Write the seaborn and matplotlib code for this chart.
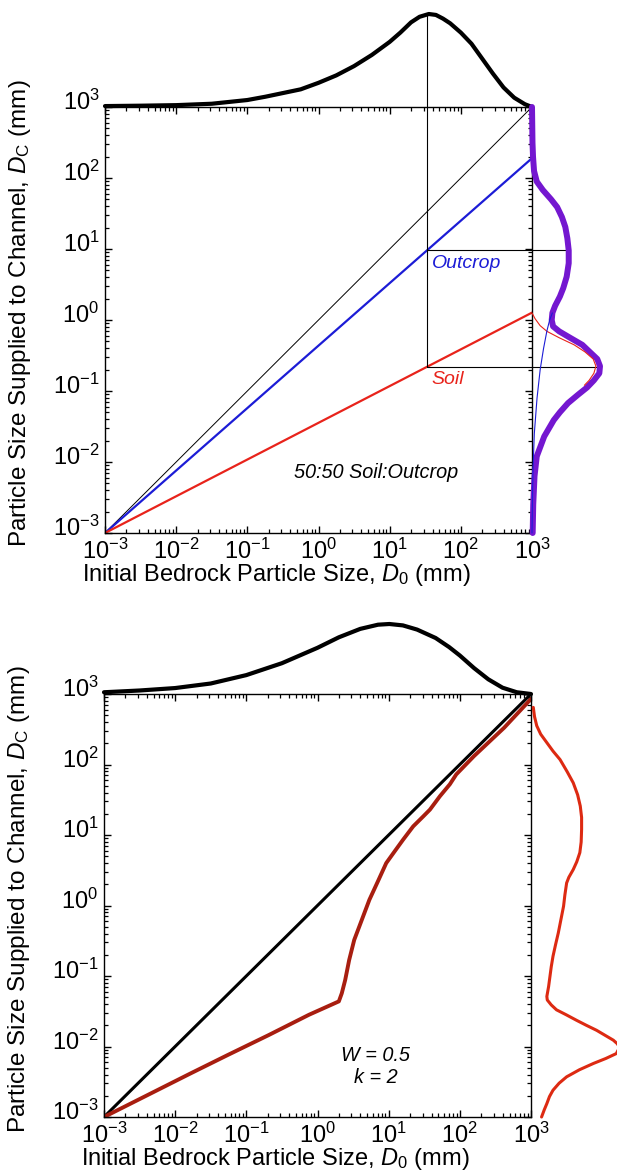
import numpy as np
import pandas as pd
import matplotlib
matplotlib.use("Agg")
import matplotlib.pyplot as plt
import matplotlib.transforms as mtransforms
import seaborn as sns
from matplotlib.ticker import FixedLocator, LogFormatterSciNotation, NullFormatter

sns.set_theme(style="ticks")
plt.rcParams['font.family'] = ['Liberation Sans', 'DejaVu Sans']
plt.rcParams['mathtext.fontset'] = 'custom'
plt.rcParams['mathtext.rm'] = 'Liberation Sans'
plt.rcParams['mathtext.it'] = 'Liberation Sans:italic'
plt.rcParams['mathtext.bf'] = 'Liberation Sans:bold'
plt.rcParams['axes.unicode_minus'] = False

# ---------------- data: top panel (50:50 soil:outcrop) ----------------
d0_ends = [1e-3, 1e3]
one_to_one = [1e-3, 1e3]
outcrop_dc = [1e-3, 190.0]
soil_dc = [1e-3, 1.27]

# guide lines (exponents of 10)
d0_star_exp = 1.52
outcrop_star_exp = 0.986
soil_star_exp = -0.66
outcrop_star_density = 0.54
soil_star_density = 1.0
d0_star_density = 1.0

# distribution of initial bedrock particle size (top margin): log10 D0, relative density
top_d0_exp = [-3.0, -2.5, -2.0, -1.5, -1.0, -0.75, -0.5, -0.25, 0.0, 0.25, 0.5, 0.75, 1.0,
              1.15, 1.3, 1.42, 1.55, 1.65, 1.75, 1.85, 2.0, 2.15, 2.3, 2.45, 2.6, 2.75,
              2.9, 3.0]
top_d0_dens = [0.01, 0.014, 0.02, 0.035, 0.075, 0.11, 0.15, 0.19, 0.26, 0.34, 0.44, 0.56,
               0.70, 0.80, 0.91, 0.97, 1.0, 0.99, 0.95, 0.90, 0.80, 0.68, 0.52, 0.36, 0.21,
               0.10, 0.03, 0.0]

# distribution of supplied size (right margin): log10 Dc, relative density
mix_dc_exp = [3.0, 2.5, 2.3, 2.1, 1.95, 1.83, 1.7, 1.59, 1.45, 1.31, 1.15, 0.98, 0.8, 0.61,
              0.45, 0.33, 0.2, 0.1, 0.0, -0.09, -0.16, -0.25, -0.35, -0.45, -0.55, -0.65,
              -0.75, -0.85, -0.95, -1.05, -1.17, -1.3, -1.41, -1.64, -1.92, -2.2, -2.6, -3.0]
mix_dens = [0.0, 0.007, 0.015, 0.03, 0.07, 0.16, 0.28, 0.37, 0.44, 0.49, 0.52, 0.54, 0.54,
            0.51, 0.46, 0.41, 0.34, 0.30, 0.29, 0.31, 0.40, 0.56, 0.74, 0.85, 0.96, 1.0,
            0.99, 0.91, 0.81, 0.68, 0.53, 0.41, 0.32, 0.18, 0.07, 0.037, 0.018, 0.01]
soil_comp_exp = [0.10, 0.02, -0.08, -0.16, -0.25, -0.35, -0.45, -0.55, -0.65, -0.75, -0.85, -0.92]
soil_comp_dens = [0.0, 0.044, 0.12, 0.22, 0.40, 0.62, 0.78, 0.90, 0.94, 0.91, 0.84, 0.77]
outcrop_comp_exp = [-3.0, -2.5, -2.1, -1.6, -1.1, -0.7, -0.4, -0.15, 0.0, 0.1]
outcrop_comp_dens = [0.0, 0.007, 0.015, 0.034, 0.074, 0.12, 0.17, 0.22, 0.26, 0.30]

# ---------------- data: bottom panel (W = 0.5, k = 2) ----------------
bot_d0_exp = [-3.0, -2.39, -1.78, -1.26, -0.69, -0.12, 0.30, 0.341, 0.389, 0.445, 0.516,
              0.587, 0.658, 0.729, 0.848, 0.966, 1.084, 1.203, 1.345, 1.487, 1.58, 1.72,
              1.86, 1.95, 2.2, 2.622, 3.0]
bot_dc_exp = [-3.0, -2.69, -2.38, -2.12, -1.84, -1.55, -1.36, -1.246, -1.057, -0.773,
              -0.488, -0.299, -0.109, 0.081, 0.341, 0.602, 0.768, 0.934, 1.123, 1.265,
              1.36, 1.55, 1.72, 1.86, 2.12, 2.521, 2.93]

bot_top_exp = [-3.0, -2.5, -2.0, -1.5, -1.0, -0.5, 0.0, 0.3, 0.6, 0.85, 1.01, 1.2, 1.4,
               1.66, 1.85, 2.0, 2.2, 2.4, 2.6, 2.8, 3.0]
bot_top_dens = [0.025, 0.05, 0.085, 0.15, 0.27, 0.44, 0.66, 0.81, 0.93, 0.99, 1.0, 0.98,
                0.92, 0.80, 0.67, 0.55, 0.37, 0.21, 0.09, 0.025, 0.0]

bot_right_exp = [2.81, 2.68, 2.55, 2.43, 2.31, 2.19, 2.07, 1.9, 1.74, 1.57, 1.41, 1.25, 1.08,
                 0.9, 0.75, 0.62, 0.51, 0.4, 0.32, 0.15, -0.01, -0.2, -0.39, -0.55, -0.72,
                 -0.87, -1.01, -1.15, -1.29, -1.34, -1.41, -1.48, -1.55, -1.63, -1.7, -1.77,
                 -1.84, -1.91, -1.96, -2.0, -2.05, -2.1, -2.17, -2.24, -2.33, -2.43, -2.52,
                 -2.62, -2.71, -2.81, -2.9, -3.0]
bot_right_dens = [0.026, 0.04, 0.065, 0.11, 0.18, 0.25, 0.33, 0.41, 0.48, 0.53, 0.56, 0.575,
                  0.575, 0.57, 0.555, 0.52, 0.48, 0.43, 0.405, 0.385, 0.37, 0.34, 0.31, 0.28,
                  0.25, 0.23, 0.215, 0.2, 0.18, 0.185, 0.23, 0.29, 0.40, 0.52, 0.63, 0.745,
                  0.84, 0.935, 0.98, 1.0, 0.99, 0.97, 0.85, 0.71, 0.55, 0.405, 0.32, 0.25,
                  0.21, 0.18, 0.15, 0.12]

# axis tick positions (decades and the 2..9 subdivisions)
decade_exps = [-3, -2, -1, 0, 1, 2, 3]
minor_mults = [2, 3, 4, 5, 6, 7, 8, 9]

# ---------------- colours ----------------
c_outcrop = "#1c1cd6"
c_soil = "#e8231b"
c_mix = "#7417d0"
c_bot = "#a81e10"
c_bot_m = "#dd2a12"

W, H = 617, 1172
fig = plt.figure(figsize=(W / 100, H / 100), dpi=100)

major_pos = [10.0 ** e for e in decade_exps]
minor_pos = [m * 10.0 ** e for e in decade_exps[:-1] for m in minor_mults]


def fx(px):
    return px / W


def fy(px):
    return 1 - px / H


def style_main(ax):
    ax.set_xscale('log')
    ax.set_yscale('log')
    ax.set_xlim(1e-3, 1e3)
    ax.set_ylim(1e-3, 1e3)
    for s in ax.spines.values():
        s.set_color('black')
        s.set_linewidth(1.0)
    ax.set_facecolor('white')


def finish_main(ax):
    ax.set_xlim(1e-3, 1e3)
    ax.set_ylim(1e-3, 1e3)
    for a in (ax.xaxis, ax.yaxis):
        a.set_major_locator(FixedLocator(major_pos))
        a.set_minor_locator(FixedLocator(minor_pos))
        a.set_major_formatter(LogFormatterSciNotation())
        a.set_minor_formatter(NullFormatter())
    ax.tick_params(which='both', direction='in', top=True, right=True, bottom=True,
                   left=True, color='black', labelsize=17, labelcolor='black')
    ax.tick_params(which='major', length=5, width=1.0, pad=4)
    ax.tick_params(which='minor', length=3.2, width=0.9)
    ax.set_xlabel(r"Initial Bedrock Particle Size, $\mathit{D_0}$ (mm)", fontsize=17,
                  color='black')
    ax.set_ylabel(r"Particle Size Supplied to Channel, $\mathit{D}_{\mathrm{C}}$ (mm)",
                  fontsize=17.5, color='black')
    ax.xaxis.set_label_coords((276 - 105) / 427, -0.068)
    ax.yaxis.set_label_coords(-0.168, 0.515)
    # y tick labels sit a little above their ticks, as in the reference
    shift = mtransforms.ScaledTranslation(0, 7 / 100, fig.dpi_scale_trans)
    for lab in ax.get_yticklabels():
        lab.set_transform(lab.get_transform() + shift)


def margin_axes(rect, xlog=False, ylog=False):
    a = fig.add_axes(rect)
    a.patch.set_alpha(0)
    if xlog:
        a.set_xscale('log')
    if ylog:
        a.set_yscale('log')
    return a


# ================= TOP PANEL =================
L, R, T, B = 105, 532, 107, 533
ax1 = fig.add_axes([fx(L), fy(B), fx(R - L), (B - T) / H])
style_main(ax1)

sns.lineplot(x=d0_ends, y=one_to_one, ax=ax1, color='black', lw=0.7, estimator=None)
sns.lineplot(x=d0_ends, y=outcrop_dc, ax=ax1, color=c_outcrop, lw=1.6, estimator=None)
sns.lineplot(x=d0_ends, y=soil_dc, ax=ax1, color=c_soil, lw=1.6, estimator=None)

xs = 10 ** d0_star_exp
ax1.plot([xs, xs], [10 ** soil_star_exp, 1e3], color='black', lw=0.8)
ax1.plot([xs, 1e3], [10 ** outcrop_star_exp] * 2, color='black', lw=0.8)
ax1.plot([xs, 1e3], [10 ** soil_star_exp] * 2, color='black', lw=0.8)

ax1.text(10 ** 1.59, 10 ** 0.80, "Outcrop", color=c_outcrop, style='italic', fontsize=14,
         ha='left', va='center')
ax1.text(10 ** 1.59, 10 ** -0.845, "Soil", color=c_soil, style='italic', fontsize=14,
         ha='left', va='center')
ax1.text(10 ** 0.81, 10 ** -2.15, "50:50 Soil:Outcrop", color='black', style='italic',
         fontsize=14.3, ha='center', va='center')

# top margin
axt1 = margin_axes([fx(L), fy(T), fx(R - L), 100 / H], xlog=True)
sns.lineplot(x=10 ** np.array(top_d0_exp), y=top_d0_dens, ax=axt1, color='black', lw=3,
             estimator=None, clip_on=False)
axt1.plot([xs, xs], [0, d0_star_density], color='black', lw=0.8)
axt1.set_xlim(1e-3, 1e3)
axt1.set_ylim(0, 100 / 93)

# right margin
axr1 = margin_axes([fx(R), fy(B), fx(W - R), (B - T) / H], ylog=True)
axr1.plot([0, outcrop_star_density], [10 ** outcrop_star_exp] * 2, color='black', lw=0.8)
axr1.plot([0, soil_star_density], [10 ** soil_star_exp] * 2, color='black', lw=0.8)
sns.lineplot(x=mix_dens, y=10 ** np.array(mix_dc_exp), ax=axr1, color=c_mix, lw=4.3,
             sort=False, estimator=None, orient='y', clip_on=False)
sns.lineplot(x=soil_comp_dens, y=10 ** np.array(soil_comp_exp), ax=axr1, color=c_soil,
             lw=0.8, sort=False, estimator=None, orient='y', clip_on=False)
sns.lineplot(x=outcrop_comp_dens, y=10 ** np.array(outcrop_comp_exp), ax=axr1,
             color=c_outcrop, lw=0.8, sort=False, estimator=None, orient='y', clip_on=False)
axr1.set_ylim(1e-3, 1e3)
axr1.set_xlim(0, 85 / 68)

# ================= BOTTOM PANEL =================
L2, R2, T2, B2 = 104, 531, 694, 1117
ax2 = fig.add_axes([fx(L2), fy(B2), fx(R2 - L2), (B2 - T2) / H])
style_main(ax2)
sns.lineplot(x=d0_ends, y=one_to_one, ax=ax2, color='black', lw=2.2, estimator=None)
sns.lineplot(x=10 ** np.array(bot_d0_exp), y=10 ** np.array(bot_dc_exp), ax=ax2,
             color=c_bot, lw=2.8, estimator=None, sort=False)
ax2.text(10 ** 0.82, 10 ** -2.29, "W = 0.5\nk = 2", color='black', style='italic',
         fontsize=14.3, ha='center', va='center', linespacing=1.2)

axt2 = margin_axes([fx(L2), fy(T2), fx(R2 - L2), 100 / H], xlog=True)
sns.lineplot(x=10 ** np.array(bot_top_exp), y=bot_top_dens, ax=axt2, color='black', lw=3,
             estimator=None, clip_on=False)
axt2.set_xlim(1e-3, 1e3)
axt2.set_ylim(0, 100 / 70)

axr2 = margin_axes([fx(R2), fy(B2), fx(W - R2), (B2 - T2) / H], ylog=True)
sns.lineplot(x=bot_right_dens, y=10 ** np.array(bot_right_exp), ax=axr2, color=c_bot_m,
             lw=2.2, sort=False, estimator=None, orient='y', clip_on=False)
axr2.set_ylim(1e-3, 1e3)
axr2.set_xlim(0, 86 / 88)

for a in (axt1, axr1, axt2, axr2):
    leg = a.get_legend()
    if leg:
        leg.remove()
    a.set_axis_off()

finish_main(ax1)
finish_main(ax2)

fig.savefig("out.png", dpi=100, facecolor='white')
